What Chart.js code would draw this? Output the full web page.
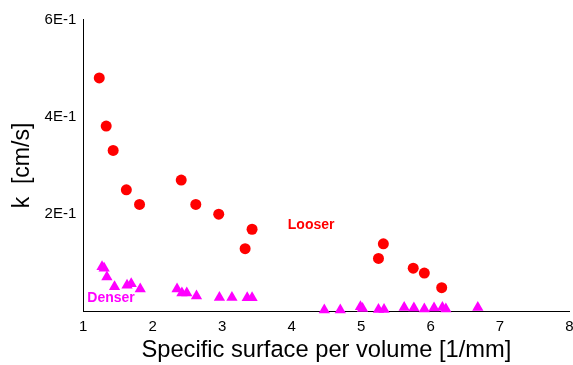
<!DOCTYPE html>
<html>
<head>
<meta charset="utf-8">
<script src="https://cdn.jsdelivr.net/npm/chart.js@4"></script>
<style>
  body { margin: 0; background: #fff; overflow: hidden; }
</style>
</head>
<body>
<canvas id="chart" width="576" height="365"></canvas>
<script>
// looser packing (red circles)
var looserX = [1.23, 1.33, 1.43, 1.62, 1.81, 2.41, 2.62, 2.95, 3.33, 3.43, 5.25, 5.32, 5.75, 5.91, 6.16];
var looserY = [0.480, 0.381, 0.331, 0.250, 0.220, 0.270, 0.220, 0.200, 0.129, 0.169, 0.109, 0.139, 0.089, 0.079, 0.049];

// denser packing (magenta triangles)
var denserX = [1.27, 1.30, 1.34, 1.45, 1.63, 1.69, 1.82, 2.35, 2.42, 2.49, 2.63, 2.96, 3.14, 3.36, 3.43,
               4.47, 4.70, 4.99, 5.02, 5.25, 5.33, 5.62, 5.76, 5.91, 6.05, 6.17, 6.22, 6.68];
var denserY = [0.092, 0.089, 0.071, 0.051, 0.054, 0.057, 0.046, 0.046, 0.038, 0.038, 0.032, 0.029, 0.029, 0.028, 0.028,
               0.003, 0.003, 0.010, 0.006, 0.004, 0.004, 0.008, 0.007, 0.005, 0.007, 0.008, 0.005, 0.008];

var yTicks = [0.2, 0.4, 0.6];
var yTickLabels = ['2E-1', '4E-1', '6E-1'];
var xTicks = [1, 2, 3, 4, 5, 6, 7, 8];

var labels = [
  {text: 'Looser', x: 4.28, y: 0.177, color: '#ff0000'},
  {text: 'Denser', x: 1.40, y: 0.027, color: '#ff00ff'}
];

function toPoints(xs, ys) {
  var pts = [];
  for (let i = 0; i < xs.length; i++) {
    pts.push({x: xs[i], y: ys[i]});
  }
  return pts;
}

// writes the group names in data coordinates
var textLabels = {
  id: 'textLabels',
  afterDatasetsDraw: function(chart) {
    var ctx = chart.ctx;
    var xs = chart.scales.x;
    var ys = chart.scales.y;
    ctx.save();
    ctx.font = 'bold 14px "Liberation Sans", Arial, sans-serif';
    ctx.textAlign = 'center';
    ctx.textBaseline = 'middle';
    labels.forEach(function(l) {
      ctx.fillStyle = l.color;
      ctx.fillText(l.text, xs.getPixelForValue(l.x), ys.getPixelForValue(l.y));
    });
    ctx.restore();
  }
};

var font = '"Liberation Sans", Arial, sans-serif';

new Chart(document.getElementById('chart'), {
  type: 'scatter',
  data: {
    datasets: [
      {
        label: 'Looser',
        data: toPoints(looserX, looserY),
        pointStyle: 'circle',
        pointRadius: 5.5,
        pointBorderWidth: 0,
        backgroundColor: '#ff0000',
        borderColor: '#ff0000',
        clip: false
      },
      {
        label: 'Denser',
        data: toPoints(denserX, denserY),
        pointStyle: 'triangle',
        pointRadius: 6.5,
        pointBorderWidth: 0,
        backgroundColor: '#ff00ff',
        borderColor: '#ff00ff',
        clip: false
      }
    ]
  },
  options: {
    responsive: false,
    animation: false,
    layout: {padding: {left: 9, top: 19.5, right: 0, bottom: 0}},
    plugins: {
      legend: {display: false},
      tooltip: {enabled: false}
    },
    scales: {
      x: {
        type: 'linear',
        min: 1,
        max: 8,
        afterBuildTicks: function(axis) {
          axis.ticks = xTicks.map(function(v) { return {value: v}; });
        },
        afterFit: function(axis) {
          axis.paddingRight = 0;
          axis.height = 53.5;
        },
        grid: {display: false, drawTicks: false},
        border: {display: true, color: '#000', width: 1},
        ticks: {
          color: '#000',
          padding: 6,
          maxRotation: 0,
          font: {family: font, size: 15},
          callback: function(v) { return String(v); }
        },
        title: {
          display: true,
          text: 'Specific surface per volume [1/mm]',
          color: '#000',
          padding: {top: 0, bottom: 0},
          font: {family: font, size: 23.7}
        }
      },
      y: {
        type: 'linear',
        min: 0,
        max: 0.6,
        afterBuildTicks: function(axis) {
          axis.ticks = yTicks.map(function(v) { return {value: v}; });
        },
        grid: {display: false, drawTicks: false},
        border: {display: true, color: '#000', width: 1},
        ticks: {
          color: '#000',
          padding: 7,
          font: {family: font, size: 15},
          callback: function(v) {
            var i = yTicks.indexOf(v);
            return i >= 0 ? yTickLabels[i] : '';
          }
        },
        title: {
          display: true,
          text: 'k  [cm/s]',
          color: '#000',
          padding: {top: 0, bottom: 1},
          font: {family: font, size: 23}
        }
      }
    }
  },
  plugins: [textLabels]
});
</script>
</body>
</html>
